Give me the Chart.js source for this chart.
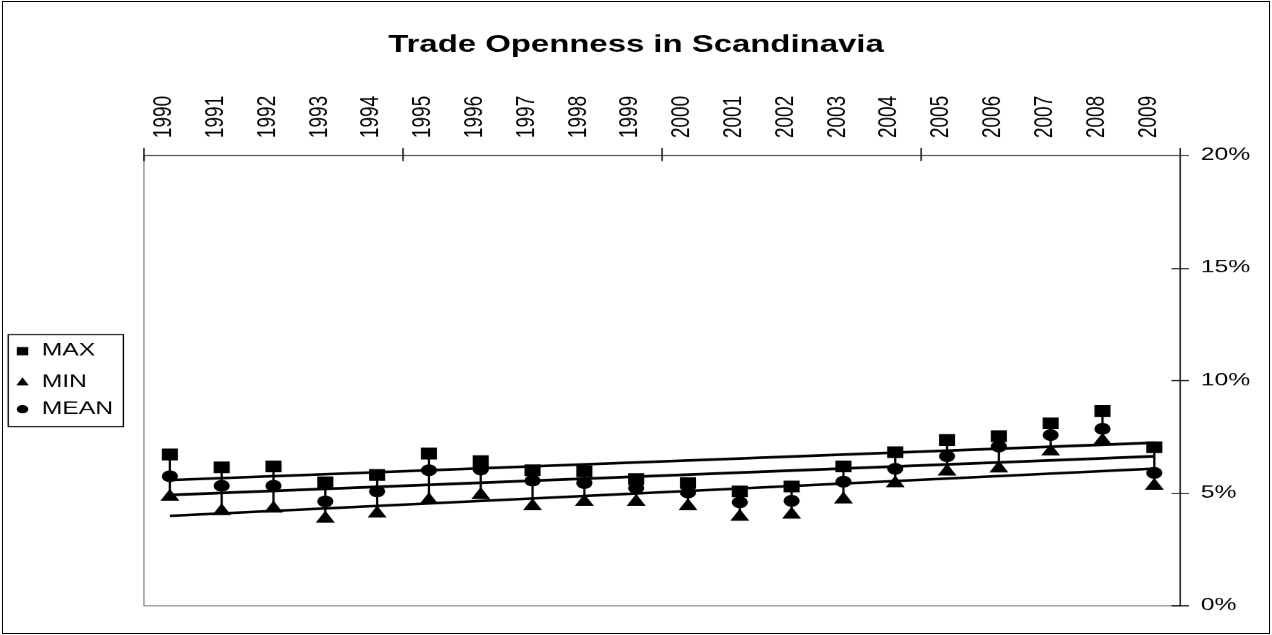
<!DOCTYPE html>
<html><head><meta charset="utf-8">
<script src="https://cdn.jsdelivr.net/npm/chart.js@4.4.1/dist/chart.umd.min.js"></script>
<style>
html,body{margin:0;padding:0;background:#fff;overflow:hidden}
#frame{position:absolute;left:2px;top:1px;width:1268px;height:633px;border:1px solid #000;box-sizing:border-box;pointer-events:none;z-index:2}
#wrap{position:absolute;left:0;top:0;width:928px;height:635px;transform:scaleX(1.37069);transform-origin:0 0}
</style></head><body>
<div id="wrap"><canvas id="c"></canvas></div>
<div id="frame"></div>
<script>
const chartTitle = 'Trade Openness in Scandinavia';
const years = ['1990','1991','1992','1993','1994','1995','1996','1997','1998','1999',
               '2000','2001','2002','2003','2004','2005','2006','2007','2008','2009'];
const maxValues  = [6.70,6.13,6.17,5.46,5.79,6.74,6.40,6.00,5.95,5.61,5.43,5.06,5.28,6.17,6.80,7.34,7.51,8.08,8.63,7.02];
const meanValues = [5.73,5.31,5.31,4.61,5.06,6.00,6.03,5.54,5.43,5.21,5.01,4.57,4.64,5.49,6.06,6.62,7.05,7.56,7.84,5.88];
const minValues  = [4.82,4.18,4.30,3.85,4.08,4.67,4.90,4.40,4.60,4.60,4.40,3.93,4.03,4.70,5.42,5.94,6.08,6.83,7.31,5.31];
// trend line end values (1990, 2009)
const trendMax  = [5.56, 7.22];
const trendMean = [4.90, 6.62];
const trendMin  = [3.97, 6.07];
const yTicks = [0, 5, 10, 15, 20];
const legendNames = ['MAX', 'MIN', 'MEAN'];

const FONT = "'Liberation Sans', Arial, sans-serif";
const last = years.length - 1;

const titlePlugin = {
  id: 'titleText',
  afterDraw(chart) {
    const ctx = chart.ctx;
    ctx.save();
    ctx.fillStyle = '#000';
    ctx.font = 'bold 24px ' + FONT;
    ctx.textAlign = 'center';
    ctx.textBaseline = 'middle';
    ctx.fillText(chartTitle, chart.width / 2, 45);
    ctx.restore();
  }
};

const axesPlugin = {
  id: 'excelAxes',
  beforeDatasetsDraw(chart) {
    const {ctx, chartArea: a, scales} = chart;
    ctx.save();
    ctx.strokeStyle = '#8c8c8c';
    ctx.lineWidth = 1;
    ctx.beginPath();
    ctx.moveTo(a.left, a.top); ctx.lineTo(a.left, a.bottom + 0.5);
    ctx.moveTo(a.left, a.bottom + 0.5); ctx.lineTo(a.right, a.bottom + 0.5);
    ctx.stroke();
    ctx.strokeStyle = '#000';
    ctx.beginPath();
    ctx.moveTo(a.left, a.top + 0.5); ctx.lineTo(a.right, a.top + 0.5);
    const n = years.length;
    for (let i = 0; i <= n; i += 5) {
      const x = a.left + i * (a.right - a.left) / n;
      ctx.moveTo(x, a.top - 7); ctx.lineTo(x, a.top + 6);
    }
    ctx.moveTo(a.right, a.top); ctx.lineTo(a.right, a.bottom + 1);
    yTicks.forEach(v => {
      const y = Math.round(scales.y.getPixelForValue(v)) + 0.5;
      ctx.moveTo(a.right - 6.4, y); ctx.lineTo(a.right + 6.4, y);
    });
    ctx.stroke();
    ctx.restore();
  }
};

const legendPlugin = {
  id: 'boxLegend',
  afterDraw(chart) {
    const ctx = chart.ctx;
    ctx.save();
    ctx.strokeStyle = '#000';
    ctx.lineWidth = 1;
    ctx.strokeRect(6, 334.5, 84, 92);
    const styles = [
      {pointStyle: 'rect', radius: 5.9, y: 351},
      {pointStyle: 'triangle', radius: 5.3, y: 382.5},
      {pointStyle: 'circle', radius: 4.2, y: 409}
    ];
    ctx.font = '18px ' + FONT;
    ctx.textBaseline = 'middle';
    legendNames.forEach((name, i) => {
      const s = styles[i];
      ctx.fillStyle = '#000';
      ctx.strokeStyle = '#000';
      Chart.helpers.drawPoint(ctx, {pointStyle: s.pointStyle, radius: s.radius, rotation: 0, borderWidth: 0}, 16.4, s.y);
      ctx.fillStyle = '#000';
      ctx.fillText(name, 30.4, [350, 381.5, 409][i]);
    });
    ctx.restore();
  }
};

const markerDs = (label, data, style, radius) => ({
  type: 'line', label, data, showLine: false,
  pointStyle: style, pointRadius: radius, pointHoverRadius: radius,
  pointBackgroundColor: '#000', pointBorderColor: '#000', pointBorderWidth: 0,
  order: 1
});
const trendDs = (label, ends) => ({
  type: 'line', label,
  data: [{x: years[0], y: ends[0]}, {x: years[last], y: ends[1]}],
  borderColor: '#000', borderWidth: 2.6, pointRadius: 0, fill: false, order: 2
});

new Chart(document.getElementById('c'), {
  data: {
    labels: years,
    datasets: [
      {type: 'bar', label: 'hilo', data: years.map((_, i) => [minValues[i], maxValues[i]]),
       backgroundColor: '#000', borderWidth: 0, barThickness: 1, order: 5},
      trendDs('MAX trend', trendMax),
      trendDs('MEAN trend', trendMean),
      trendDs('MIN trend', trendMin),
      markerDs('MAX', maxValues, 'rect', 8.3),
      markerDs('MIN', minValues, 'triangle', 8),
      markerDs('MEAN', meanValues, 'circle', 5.9)
    ]
  },
  options: {
    responsive: true,
    maintainAspectRatio: false,
    devicePixelRatio: 1272 / 928,
    animation: false,
    events: [],
    layout: {padding: {left: 105, right: 0, top: 0, bottom: 30}},
    plugins: {legend: {display: false}, tooltip: {enabled: false}, title: {display: false}},
    scales: {
      x: {
        type: 'category', position: 'top', offset: true,
        grid: {display: false, drawTicks: false}, border: {display: false},
        ticks: {autoSkip: false, minRotation: 90, maxRotation: 90, padding: 17, labelOffset: 18.5,
                color: '#000', font: {family: FONT, size: 19}},
        afterFit(s) { s.height = 155; }
      },
      y: {
        position: 'right', min: 0, max: 20,
        grid: {display: false, drawTicks: false}, border: {display: false},
        afterBuildTicks(s) { s.ticks = yTicks.map(v => ({value: v})); },
        ticks: {padding: 15, color: '#000', font: {family: FONT, size: 18},
                callback: v => v + '%'},
        afterFit(s) { s.width = 67; }
      }
    }
  },
  plugins: [titlePlugin, axesPlugin, legendPlugin]
});
</script>
</body></html>
